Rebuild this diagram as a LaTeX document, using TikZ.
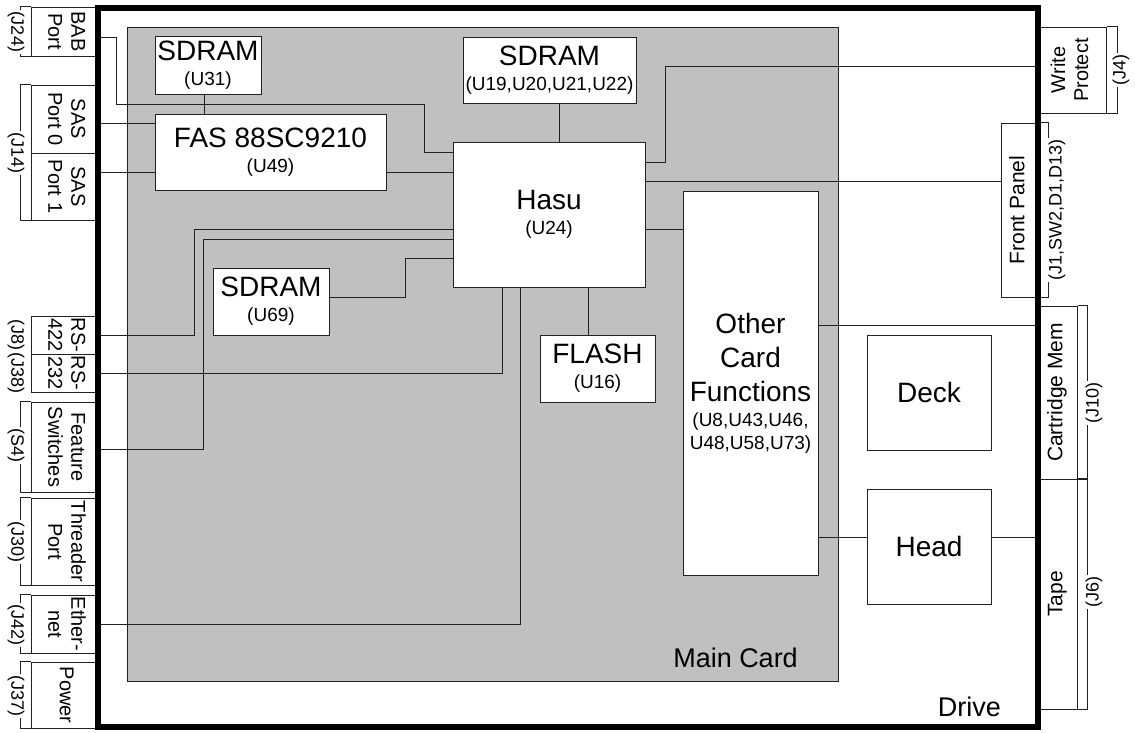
\documentclass[tikz,border=0pt]{standalone}
\usepackage{fontspec}
\setmainfont{Liberation Sans}
\usepackage{graphicx}
\newcommand\smf{\fontsize{19}{23}\selectfont}
\newcommand\bigf{\fontsize{28}{34}\selectfont}
\newcommand\conf{\fontsize{20}{23}\selectfont}
\newcommand\rconf{\fontsize{21}{24}\selectfont}
\newcommand\jf{\fontsize{18}{21}\selectfont}
\newcommand\rotL[1]{\rotatebox{-90}{\begin{tabular}{@{}c@{}}#1\end{tabular}}}
\newcommand\rotR[1]{\rotatebox{90}{\begin{tabular}{@{}c@{}}#1\end{tabular}}}
\definecolor{cardgray}{HTML}{C0C0C0}
\definecolor{ink}{HTML}{222222}
\begin{document}
\begin{tikzpicture}[x=1pt,y=-1pt,
  chip/.style={draw=ink, line width=1pt, fill=white, inner sep=0pt, align=center, font=\bigf},
  port/.style={draw=ink, line width=1pt, fill=white, inner sep=0pt, font=\conf},
  rport/.style={port, font=\rconf},
  jlab/.style={fill=white, inner sep=1.5pt, font=\jf},
  wire/.style={draw=ink, line width=1pt},
  bracket/.style={draw=ink, line width=1pt},
  cardbox/.style={draw=ink, line width=1pt, fill=cardgray},
  drivebox/.style={draw=black, line width=6pt},
  biglab/.style={font=\fontsize{27}{32}\selectfont, inner sep=0pt, anchor=base east}]
\useasboundingbox (0,0) rectangle (1135,732);

% main card
\path[cardbox] (127,27) rectangle (838,681);
\node[biglab] (mclab) at (798,667) {Main Card};
\node[biglab] (drvlab) at (1001,716) {Drive};

% chips
\node[chip, minimum width=106, minimum height=58] (u31) at (208,65) {SDRAM\\[-9pt]{\smf (U31)}};
\node[chip, minimum width=231, minimum height=76] (fas) at (270.5,152) {FAS 88SC9210\\[-9pt]{\smf (U49)}};
\node[chip, minimum width=173, minimum height=66] (u19) at (549.5,70) {SDRAM\\[-9pt]{\smf (U19,U20,U21,U22)}};
\node[chip, minimum width=192, minimum height=145] (hasu) at (549,214.5) {Hasu\\[-9pt]{\smf (U24)}};
\node[chip, minimum width=116, minimum height=67] (u69) at (271,301.5) {SDRAM\\[-9pt]{\smf (U69)}};
\node[chip, minimum width=115, minimum height=67] (flash) at (597.5,368.5) {FLASH\\[-9pt]{\smf (U16)}};
\node[chip, minimum width=135, minimum height=384] (other) at (750.5,383) {Other\\Card\\Functions\\[-9pt]{\smf (U8,U43,U46,}\\[-11pt]{\smf U48,U58,U73)}};
\node[chip, minimum width=124, minimum height=115] (deck) at (929,392.5) {Deck};
\node[chip, minimum width=124, minimum height=115] (head) at (929,546.5) {Head};

% left ports
\node[port, minimum width=67, minimum height=49] (bab) at (64.5,31.5) {\rotL{BAB\\Port}};
\node[port, minimum width=67, minimum height=68] (sas0) at (64.5,119) {\rotL{SAS\\Port 0}};
\node[port, minimum width=67, minimum height=67] (sas1) at (64.5,186.5) {\rotL{SAS\\Port 1}};
\node[port, minimum width=67, minimum height=38] (rs422) at (64.5,335) {\rotL{RS-\\422}};
\node[port, minimum width=67, minimum height=38] (rs232) at (64.5,373) {\rotL{RS-\\232}};
\node[port, minimum width=67, minimum height=90] (feat) at (64.5,447) {\rotL{Feature\\Switches}};
\node[port, minimum width=67, minimum height=87] (thr) at (64.5,541.5) {\rotL{Threader\\Port}};
\node[port, minimum width=67, minimum height=58] (eth) at (64.5,624) {\rotL{Ether-\\net}};
\node[port, minimum width=67, minimum height=66] (pwr) at (64.5,695) {\rotL{Power}};

% right ports
\node[port, minimum width=68, minimum height=86] (wp) at (1072,70) {\rotR{Write\\Protect}};
\node[rport, minimum width=37, minimum height=174] (fp) at (1019.5,210) {\rotR{Front Panel}};
\node[rport, minimum width=39, minimum height=173] (cm) at (1057.5,392.5) {\rotR{Cartridge Mem}};
\node[rport, minimum width=39, minimum height=230] (tape) at (1057.5,594) {\rotR{Tape}};

% brackets
\draw[bracket] (bab.north west) -- ++(-10,0) |- (bab.south west);
\draw[bracket] (sas0.north west) -- ++(-10,0) |- (sas1.south west);
\draw[bracket] (feat.north west) -- ++(-10,0) |- (feat.south west);
\draw[bracket] (thr.north west) -- ++(-10,0) |- (thr.south west);
\draw[bracket] (eth.north west) -- ++(-10,0) |- (eth.south west);
\draw[bracket] (pwr.north west) -- ++(-10,0) |- (pwr.south west);
\draw[bracket] (wp.north east) -- ++(11,0) |- (wp.south east);
\draw[bracket] (fp.north east) -- ++(10,0) |- (fp.south east);
\draw[bracket] (cm.north east) -- ++(10,0) |- (cm.south east);
\draw[bracket] (tape.north east) -- ++(10,0) |- (tape.south east);

% connector designators
\node[jlab, rotate=-90] (j24) at (16,31.5) {(J24)};
\node[jlab, rotate=-90] (j14) at (16,153) {(J14)};
\node[jlab, rotate=-90] (j8) at (16,335) {(J8)};
\node[jlab, rotate=-90] (j38) at (16,373) {(J38)};
\node[jlab, rotate=-90] (s4) at (16,445) {(S4)};
\node[jlab, rotate=-90] (j30) at (16,542) {(J30)};
\node[jlab, rotate=-90] (j42) at (16,625) {(J42)};
\node[jlab, rotate=-90] (j37) at (16,696) {(J37)};
\node[jlab, rotate=90] (j4) at (1121,70) {(J4)};
\node[jlab, rotate=90] (jfp) at (1057,210) {(J1,SW2,D1,D13)};
\node[jlab, rotate=90] (j10) at (1094,403) {(J10)};
\node[jlab, rotate=90] (j6) at (1094,592) {(J6)};

% wires
\draw[wire] (bab.east |- 0,37) -| (116,104) -| (424,152) -- (hasu.west |- 0,152);
\draw[wire] (sas0.east |- 0,123) -- (fas.west |- 0,123);
\draw[wire] (sas1.east |- 0,172) -- (fas.west |- 0,172);
\draw[wire] (fas.east |- 0,172) -- (hasu.west |- 0,172);
\draw[wire] (u31.south -| 204,0) -- (fas.north -| 204,0);
\draw[wire] (u19.south -| 559,0) -- (hasu.north -| 559,0);
\draw[wire] (rs422.east) -| (194,229) -- (hasu.west |- 0,229);
\draw[wire] (feat.east |- 0,449) -| (203,239) -- (hasu.west |- 0,239);
\draw[wire] (u69.east |- 0,297) -| (405,258) -- (hasu.west |- 0,258);
\draw[wire] (rs232.east) -| (hasu.south -| 502,0);
\draw[wire] (eth.east) -| (hasu.south -| 520,0);
\draw[wire] (hasu.south -| 588,0) -- (flash.north -| 588,0);
\draw[wire] (hasu.east |- 0,162) -| (665,66) -- (wp.west |- 0,66);
\draw[wire] (hasu.east |- 0,181) -- (fp.west |- 0,181);
\draw[wire] (hasu.east |- 0,229) -- (other.west |- 0,229);
\draw[wire] (other.east |- 0,325) -- (cm.west |- 0,325);
\draw[wire] (other.east |- 0,537) -- (head.west |- 0,537);
\draw[wire] (head.east |- 0,537) -- (tape.west |- 0,537);

% drive enclosure
\path[drivebox] (98,8) rectangle (1038,727);
\end{tikzpicture}
\end{document}
